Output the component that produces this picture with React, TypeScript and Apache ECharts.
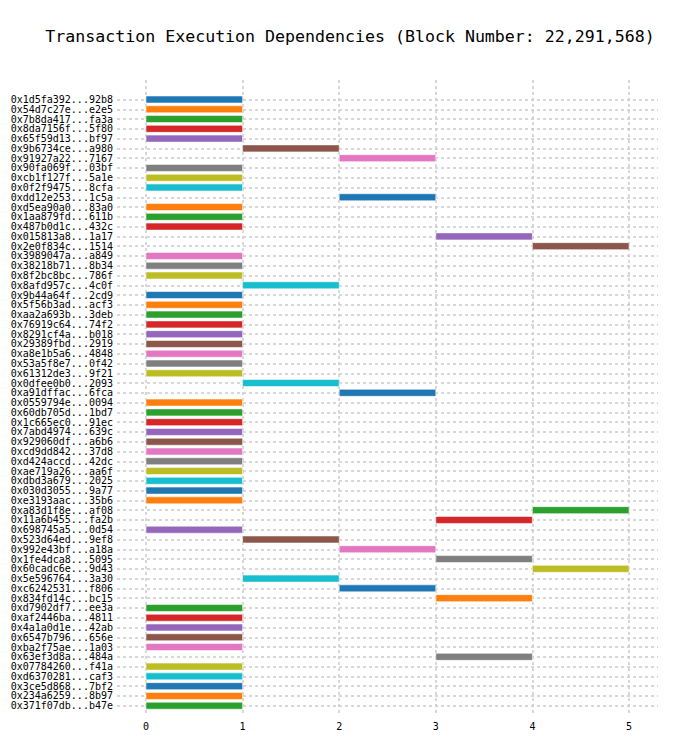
import React, { useEffect, useRef } from "react";
import * as echarts from "echarts";

const TITLE = "Transaction Execution Dependencies (Block Number: 22,291,568)";

const txLabels = [
  "0x1d5fa392...92b8", "0x54d7c27e...e2e5", "0x7b8da417...fa3a", "0x8da7156f...5f80",
  "0x65f59d13...bf97", "0x9b6734ce...a980", "0x91927a22...7167", "0x90fa069f...03bf",
  "0xcb1f127f...5a1e", "0x0f2f9475...8cfa", "0xdd12e253...1c5a", "0xd5ea90a0...83a0",
  "0x1aa879fd...611b", "0x487b0d1c...432c", "0x015813a8...1a17", "0x2e0f834c...1514",
  "0x3989047a...a849", "0x38218b71...8b34", "0x8f2bc8bc...786f", "0x8afd957c...4c0f",
  "0x9b44a64f...2cd9", "0x5f56b3ad...acf3", "0xaa2a693b...3deb", "0x76919c64...74f2",
  "0x8291cf4a...b018", "0x29389fbd...2919", "0xa8e1b5a6...4848", "0x53a5f8e7...0f42",
  "0x61312de3...9f21", "0x0dfee0b0...2093", "0xa91dffac...6fca", "0x0559794e...0094",
  "0x60db705d...1bd7", "0x1c665ec0...91ec", "0x7abd4974...639c", "0x929060df...a6b6",
  "0xcd9dd842...37d8", "0xd424accd...42dc", "0xae719a26...aa6f", "0xdbd3a679...2025",
  "0x030d3055...9a77", "0xe3193aac...35b6", "0xa83d1f8e...af08", "0x11a6b455...fa2b",
  "0x698745a5...0d54", "0x523d64ed...9ef8", "0x992e43bf...a18a", "0x1fe4dca8...5095",
  "0x60cadc6e...9d43", "0x5e596764...3a30", "0xc6242531...f806", "0x834fd14c...bc15",
  "0xd7902df7...ee3a", "0xaf2446ba...4811", "0x4a1a0d1e...42ab", "0x6547b796...656e",
  "0xba2f75ae...1a03", "0x63ef3d8a...484a", "0x07784260...f41a", "0xd6370281...caf3",
  "0x3ce5d868...7bf2", "0x234a6259...8b97", "0x371f07db...b47e",
];

const startLevels = [
  0, 0, 0, 0, 0, 1, 2, 0, 0, 0,
  2, 0, 0, 0, 3, 4, 0, 0, 0, 1,
  0, 0, 0, 0, 0, 0, 0, 0, 0, 1,
  2, 0, 0, 0, 0, 0, 0, 0, 0, 0,
  0, 0, 4, 3, 0, 1, 2, 3, 4, 1,
  2, 3, 0, 0, 0, 0, 0, 3, 0, 0,
  0, 0, 0,
];

const endLevels = [
  1, 1, 1, 1, 1, 2, 3, 1, 1, 1,
  3, 1, 1, 1, 4, 5, 1, 1, 1, 2,
  1, 1, 1, 1, 1, 1, 1, 1, 1, 2,
  3, 1, 1, 1, 1, 1, 1, 1, 1, 1,
  1, 1, 5, 4, 1, 2, 3, 4, 5, 2,
  3, 4, 1, 1, 1, 1, 1, 4, 1, 1,
  1, 1, 1,
];

const PALETTE = [
  "#1f77b4", "#ff7f0e", "#2ca02c", "#d62728", "#9467bd",
  "#8c564b", "#e377c2", "#7f7f7f", "#bcbd22", "#17becf",
];

const FONT = "'DejaVu Sans Mono', monospace";
const X_MIN = -0.3;
const X_MAX = 5.3;
const GRID_LEFT = 117;
const GRID_RIGHT = 42;

export default function App() {
  const ref = useRef<HTMLDivElement>(null);

  useEffect(() => {
    if (!ref.current) return;
    const chart = echarts.init(ref.current, undefined, { renderer: "svg" });

    const data = txLabels.map((_, i) => [i, startLevels[i], endLevels[i]]);

    const option: any = {
      animation: false,
      backgroundColor: "#ffffff",
      title: {
        text: TITLE,
        left: "center",
        top: 23,
        textStyle: {
          fontFamily: FONT,
          fontSize: 16.6,
          fontWeight: "normal",
          color: "#000",
        },
      },
      grid: [
        { left: GRID_LEFT, right: GRID_RIGHT, top: 80, bottom: 40 },
        { left: GRID_LEFT, right: GRID_RIGHT, top: 99.5, bottom: 50.3 },
      ],
      xAxis: [
        {
          type: "value",
          gridIndex: 0,
          min: X_MIN,
          max: X_MAX,
          minInterval: 1,
          maxInterval: 1,
          axisLine: { show: false },
          axisTick: { show: false },
          axisLabel: {
            showMinLabel: false,
            showMaxLabel: false,
            margin: 5,
            fontFamily: FONT,
            fontSize: 10,
            color: "#000",
            formatter: (v: number) => (Number.isInteger(v) ? String(v) : ""),
          },
          splitLine: {
            show: true,
            showMinLine: false,
            showMaxLine: false,
            lineStyle: { color: "#cccccc", width: 1.5, type: [3, 3] },
          },
        },
        {
          type: "value",
          gridIndex: 1,
          min: X_MIN,
          max: X_MAX,
          show: false,
          splitLine: { show: false },
        },
      ],
      yAxis: [
        {
          type: "value",
          gridIndex: 0,
          show: false,
          splitLine: { show: false },
        },
        {
          type: "category",
          gridIndex: 1,
          data: txLabels,
          inverse: true,
          boundaryGap: false,
          axisLine: { show: false },
          axisTick: { show: false },
          axisLabel: {
            interval: 0,
            margin: 4,
            fontFamily: FONT,
            fontSize: 10,
            color: "#000",
          },
          splitLine: {
            show: true,
            interval: 0,
            lineStyle: { color: "#cccccc", width: 1.5, type: [3, 3] },
          },
        },
      ],
      series: [
        {
          type: "custom",
          xAxisIndex: 1,
          yAxisIndex: 1,
          encode: { x: [1, 2], y: 0 },
          data,
          z: 5,
          renderItem: (params: any, api: any) => {
            const row = api.value(0);
            const s = api.value(1);
            const e = api.value(2);
            const p0 = api.coord([s, row]);
            const p1 = api.coord([e, row]);
            const h = 7;
            return {
              type: "rect",
              shape: { x: p0[0], y: p0[1] - h / 2, width: p1[0] - p0[0], height: h },
              style: {
                fill: PALETTE[params.dataIndex % PALETTE.length],
                stroke: "rgba(255,255,255,0.55)",
                lineWidth: 1,
              },
            };
          },
        },
      ],
    };

    chart.setOption(option);
    return () => chart.dispose();
  }, []);

  return (
    <div
      ref={ref}
      style={{ position: "fixed", left: 0, top: 0, width: 700, height: 756 }}
    />
  );
}
